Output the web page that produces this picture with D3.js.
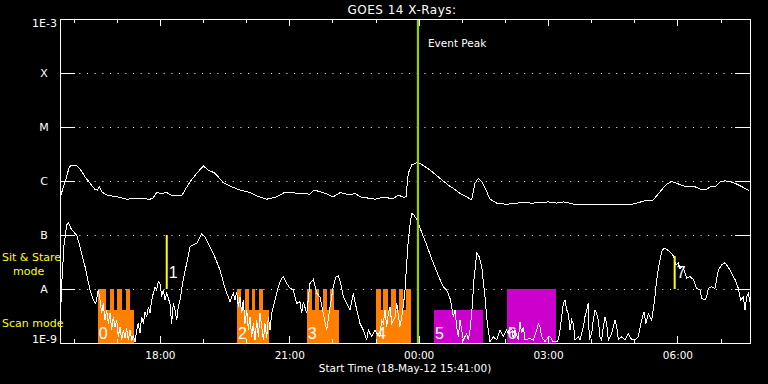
<!DOCTYPE html>
<html><head><meta charset="utf-8">
<script src="https://cdn.jsdelivr.net/npm/d3@7"></script>
<style>
html,body{margin:0;padding:0;background:#000;}
svg{display:block;background:#000;}
text{font-family:"DejaVu Sans",sans-serif;fill:#fff;}
</style></head><body>
<svg id="c" width="768" height="384"></svg>
<script>
// ---------- data ----------
const startTime = Date.UTC(2012, 4, 18, 15, 41, 0);   // plot start
const spanHours = 16;
const titleText = "GOES 14 X-Rays:";

// long channel (1-8 A): minutes after start, flux W/m^2
const longT = [1.4,4.6,9.3,12.9,16.3,23.2,28.8,34.8,41.7,48.7,51.9,54.7,58,65,78.9,92.8,106.7,125.2,129.8,134.5,141.5,148.5,152.1,157.6,169.3,173.9,180.9,190.2,199.4,206.3,215.7,227.2,238.9,250.4,264.3,273.7,287.6,301.5,313,333.9,347.8,353.4,366.3,380.2,389.6,403.5,410.4,417.4,438.3,449.8,463.7,470.7,477.6,481.4,484.6,489.3,496.3,500.9,514.8,528.7,541.6,547.2,556.5,565.8,572.8,577.4,582,586.7,592.7,598.3,607.6,621.5,640,658.5,679.4,691,700.3,714.2,751.3,760.6,779.1,797.6,813.9,825.4,834.8,844.1,851.1,858,867.2,883.5,890.4,899.7,904.3,911.3,918.3,925.2,932.2,939.1,950.7,959];
const longF = [5.5e-7,7.8e-7,1.2e-6,1.84e-6,1.95e-6,1.9e-6,1.6e-6,1.2e-6,9.1e-7,7.0e-7,6.8e-7,7.8e-7,6.3e-7,5.5e-7,5.1e-7,4.6e-7,4.8e-7,4.6e-7,4.9e-7,6.1e-7,5.9e-7,6.1e-7,5.7e-7,5.3e-7,5.3e-7,6.8e-7,9.7e-7,1.39e-6,1.9e-6,1.6e-6,1.39e-6,9.3e-7,7.8e-7,6.8e-7,6.1e-7,5.3e-7,4.6e-7,5.1e-7,6.2e-7,5.9e-7,5.7e-7,6.8e-7,6.1e-7,5.1e-7,6.1e-7,5.5e-7,5.9e-7,5.1e-7,4.6e-7,5.0e-7,4.7e-7,5.5e-7,5.0e-7,5.1e-7,1.39e-6,1.98e-6,2.18e-6,2.13e-6,1.6e-6,1.12e-6,8.1e-7,7.3e-7,5.9e-7,5.1e-7,4.45e-7,9.1e-7,1.12e-6,9.7e-7,6.8e-7,4.6e-7,3.9e-7,3.7e-7,3.96e-7,3.9e-7,4.1e-7,3.9e-7,4.1e-7,3.75e-7,3.6e-7,3.75e-7,3.6e-7,3.75e-7,4.3e-7,4.45e-7,6.3e-7,8.8e-7,9.7e-7,9.1e-7,8.1e-7,7.8e-7,7.1e-7,7.0e-7,7.8e-7,7.8e-7,9.7e-7,1.01e-6,9.7e-7,9.1e-7,7.6e-7,6.6e-7];

// short channel (0.5-4 A): minutes after start, flux W/m^2
const shortT = [0.7,2.8,5.6,9.3,11.5,16.3,23.2,27.8,34.8,41.7,46.3,49.7,53.3,55.7,58,60.2,62.6,65,67.2,69.6,71.9,74.2,76.5,78.9,81.1,83.5,85.8,88.1,90.4,92.8,95,97.4,99.8,102,104.3,106.7,108.9,111.3,113.7,115.9,118.3,120.6,122.9,125.2,127.6,129.8,132.2,134.5,136.8,139.1,141.5,143.7,146.1,148.5,153,155.4,157.6,160,162.4,164.6,167,171.5,176.3,180.9,190.2,197.1,201.7,213.3,222.6,229.6,236.5,238.9,241.1,243.5,245.8,248.1,250.4,252.8,255,257.4,259.8,262,264.3,266.7,268.9,271.3,273.7,276,278.3,280.7,283,285.2,287.6,289.9,292.2,294.5,299.1,303.7,308.4,310.7,315.4,320,324.6,329.3,333.9,336.3,338.5,343.3,347.8,352.4,357.2,361.7,366.3,371,375.7,380.2,384,387.2,390.5,394.2,398.9,403.5,408.1,411.9,417.4,422,426.7,428.9,433.7,438.3,440.6,445.2,447.5,449.8,452.2,454.5,456.8,459.2,461.5,463.8,466.1,468.5,473,475.4,477.6,480,482.4,484.6,487,489.3,492.5,496.7,500.9,510.2,519.4,528.7,533.3,538,542.6,545,547.2,549.6,551.9,554.2,556.5,558.9,561.1,565.8,568.1,570.4,572.8,576,579.8,583.4,586.7,591.3,594.5,598.3,602.8,607.6,612.2,616.8,621.5,623.7,626.1,628.4,630.7,633,637.6,640,642.3,644.6,647,653.9,658.5,663.2,665.5,667.8,670.2,674.8,679.4,681.7,686.3,691,693.3,695.7,698,700.3,702.6,705,707.2,709.6,711.9,714.2,716.5,721.1,723.5,728.1,730.4,732.8,735,736.4,739.8,742,744.3,746.7,748.9,751.3,753.7,755.9,758.3,760.6,762.9,767.6,772.2,774.6,776.8,781.5,786.1,790.7,795.4,800,804.6,809.3,812.5,815.3,818.5,823.2,825.4,827.8,830.2,833.8,837.1,840.3,844.1,848.7,853.3,857,860.2,862.6,866.4,871.9,876.5,881.1,885.8,890.4,892.8,897.4,899.7,902,906.7,911.3,915.9,920.6,925.2,932.2,939.1,943.7,947.1,950.7,953.1,955.4,957.6,960];
const shortF = [3.6e-9,1.5e-8,6.5e-8,1.53e-7,1.69e-7,1.24e-7,1.0e-7,6.1e-8,2.6e-8,9.6e-9,6.25e-9,5.4e-9,9.6e-9,6.25e-9,3.55e-9,5.4e-9,2.67e-9,4.1e-9,2.3e-9,3.55e-9,1.74e-9,3.07e-9,2.0e-9,2.67e-9,1.31e-9,2.0e-9,1.14e-9,1.74e-9,1.22e-9,1.87e-9,1.14e-9,1.74e-9,1.09e-9,1.41e-9,1.05e-9,1.74e-9,2.3e-9,1.51e-9,3.07e-9,2.3e-9,3.8e-9,3.07e-9,4.7e-9,3.55e-9,6.25e-9,8.3e-9,1.1e-8,9.6e-9,1.37e-8,1.27e-8,7.2e-9,9.6e-9,6.25e-9,8.3e-9,5.4e-9,2.3e-9,5.4e-9,4.1e-9,2.67e-9,4.7e-9,6.25e-9,1.5e-8,3.0e-8,6.1e-8,7.0e-8,1.07e-7,9.3e-8,4.6e-8,2.25e-8,1.03e-8,5.8e-9,7.2e-9,8.3e-9,6.25e-9,8.9e-9,4.7e-9,7.2e-9,3.55e-9,6.25e-9,2.3e-9,4.1e-9,1.74e-9,3.07e-9,1.31e-9,2.3e-9,1.14e-9,2.67e-9,1.31e-9,3.55e-9,2.0e-9,1.14e-9,2.3e-9,1.22e-9,3.07e-9,1.74e-9,3.55e-9,6.25e-9,1.1e-8,1.58e-8,1.69e-8,1.27e-8,1.03e-8,9.6e-9,5.4e-9,5.8e-9,3.55e-9,5.8e-9,3.55e-9,1.27e-8,1.5e-8,8.3e-9,7.2e-9,3.55e-9,1.74e-9,4.7e-9,1.1e-8,1.69e-8,1.74e-8,1.27e-8,7.2e-9,5.4e-9,4.1e-9,8.3e-9,4.7e-9,2.3e-9,1.74e-9,1.14e-9,1.74e-9,1.31e-9,1.74e-9,1.51e-9,1.31e-9,2.67e-9,2.3e-9,4.1e-9,2.0e-9,3.55e-9,4.7e-9,2.3e-9,2.67e-9,3.07e-9,5.4e-9,2.0e-9,3.07e-9,4.7e-9,9.6e-9,3.0e-8,8.1e-8,1.53e-7,2.52e-7,2.35e-7,1.9e-7,1.35e-7,6.5e-8,3.0e-8,1.5e-8,1.1e-8,9.6e-9,6.7e-9,4.7e-9,3.07e-9,4.1e-9,2.0e-9,1.31e-9,2.67e-9,1.74e-9,1.14e-9,1.51e-9,1.14e-9,1.74e-9,3.55e-9,1.5e-8,4.6e-8,3.95e-8,2.6e-8,7.2e-9,2.3e-9,1.05e-9,1.31e-9,1.14e-9,1.74e-9,1.31e-9,1.74e-9,1.51e-9,2.0e-9,1.87e-9,1.22e-9,1.74e-9,1.14e-9,2.48e-9,1.51e-9,2.0e-9,1.14e-9,1.22e-9,1.14e-9,1.74e-9,2.3e-9,2.0e-9,1.31e-9,1.05e-9,1.31e-9,1.31e-9,1.05e-9,1.05e-9,1.14e-9,1.74e-9,3.07e-9,5.4e-9,6.25e-9,4.1e-9,3.55e-9,1.74e-9,2.67e-9,2.3e-9,1.14e-9,1.31e-9,1.14e-9,2.0e-9,3.07e-9,4.1e-9,5.4e-9,1.14e-9,1.51e-9,2.67e-9,4.1e-9,3.55e-9,2.67e-9,1.31e-9,1.14e-9,2.0e-9,3.07e-9,2.3e-9,1.14e-9,1.51e-9,2.67e-9,2.0e-9,1.14e-9,1.31e-9,1.14e-9,1.51e-9,1.14e-9,1.14e-9,1.31e-9,2.67e-9,3.8e-9,2.3e-9,3.55e-9,2.67e-9,4.1e-9,7.2e-9,1.5e-8,3.0e-8,4.9e-8,5.7e-8,5.4e-8,4.9e-8,4.1e-8,2.8e-8,3.0e-8,2.4e-8,2.6e-8,1.58e-8,1.69e-8,1.5e-8,1.03e-8,9.6e-9,6.7e-9,6.25e-9,7.2e-9,1.03e-8,1.1e-8,1.03e-8,2.25e-8,2.8e-8,3.07e-8,2.25e-8,1.5e-8,1.03e-8,6.25e-9,7.2e-9,4.1e-9,7.2e-9,8.3e-9,5.8e-9];

// y axis
const yTickValues = [1e-9, 1e-8, 1e-7, 1e-6, 1e-5, 1e-4, 1e-3];
const yTickLabels = ["1E-9", "A", "B", "C", "M", "X", "1E-3"];
const gridValues = [1e-8, 1e-7, 1e-6, 1e-5, 1e-4];

// observing modes (flux level of the mode bars)
const sitLevel = 1e-8;
const scanLevel = 4.1e-9;

// observing blocks (minutes after start)
const blockLabel = ["0", "2", "3", "4", "5", "6"];
const blockStart = [52.5, 246.3, 343.3, 439.6, 520.3, 621.5];
const blockEnd   = [102.5, 290.9, 388.2, 488.3, 588.1, 690.1];
const blockBase  = ["scan", "scan", "scan", "scan", "scan", "sit"];
const blockKind  = ["a", "a", "a", "a", "b", "b"];
const blockTeeth = [
  [[52.5,64],[69.6,75.5],[79.7,85.8],[91.4,97.4]],
  [[245.8,252.3],[257,262.5],[267.1,271.7],[276.5,282.9]],
  [[343.6,350.6],[355.2,360.8],[365.5,371],[375.7,381.2]],
  [[439.6,446.2],[449.8,456.3],[460.1,467.1],[471.2,477.6],[481.4,488.3]],
  [], []
];

// short events
const eventLabel = ["1", "7"];
const eventT = [148.5, 855.2];
const eventTop = [1e-7, 4.1e-8];

// event peak
const peakT = 498;
const peakText = "Event Peak";

// ---------- drawing ----------
const svg = d3.select("#c");
const L = 60, R = 750, T = 19, B = 343;
const t0 = new Date(startTime), t1 = new Date(startTime + spanHours * 3600e3);
const toDate = m => new Date(startTime + m * 60000);
const x = d3.scaleUtc().domain([t0, t1]).range([L, R]);
const y = d3.scaleLog().domain([1e-9, 1e-3]).range([B, T]).clamp(true);
const lvl = k => (k === "sit" ? sitLevel : scanLevel);
const kindColor = {a: "#ff8000", b: "#cc00cc"};

// grid
svg.append("g").selectAll("line").data(gridValues).join("line")
  .attr("x1", L).attr("x2", R).attr("y1", d => Math.round(y(d)) + 0.5).attr("y2", d => Math.round(y(d)) + 0.5)
  .attr("stroke", "#fff").attr("stroke-width", 1).attr("stroke-dasharray", "1 6.67").attr("stroke-dashoffset", -4);

// blocks
const gb = svg.append("g").attr("shape-rendering", "crispEdges");
blockStart.forEach((s, i) => {
  const col = kindColor[blockKind[i]];
  const top = lvl(blockBase[i]);
  gb.append("rect").attr("x", x(toDate(s))).attr("width", x(toDate(blockEnd[i])) - x(toDate(s)))
    .attr("y", y(top)).attr("height", y(1e-9) - y(top)).attr("fill", col);
  blockTeeth[i].forEach(tt => {
    gb.append("rect").attr("x", x(toDate(tt[0]))).attr("width", x(toDate(tt[1])) - x(toDate(tt[0])))
      .attr("y", y(sitLevel)).attr("height", y(scanLevel) - y(sitLevel) + 0.5).attr("fill", col);
  });
});

// curves
const line = d3.line().x(d => x(toDate(d[0]))).y(d => y(d[1]));
svg.append("path").datum(longT.map((t, i) => [t, longF[i]])).attr("d", line)
  .attr("fill", "none").attr("stroke", "#fff").attr("stroke-width", 1).attr("shape-rendering", "crispEdges");
svg.append("path").datum(shortT.map((t, i) => [t, shortF[i]])).attr("d", line)
  .attr("fill", "none").attr("stroke", "#fff").attr("stroke-width", 1).attr("shape-rendering", "crispEdges");

// block labels
svg.append("g").selectAll("text").data(blockLabel).join("text")
  .attr("x", (d, i) => x(toDate(blockStart[i])) + 1).attr("y", B - 4)
  .style("font-family", "'Liberation Sans',sans-serif").style("font-size", "16px").style("font-weight", 300)
  .text(d => d);

// event lines
eventT.forEach((t, i) => {
  svg.append("line").attr("x1", x(toDate(t))).attr("x2", x(toDate(t)))
    .attr("y1", y(eventTop[i])).attr("y2", y(sitLevel))
    .attr("stroke", "#ffff00").attr("stroke-width", 2);
  svg.append("text").attr("x", x(toDate(t)) + 2).attr("y", B - 65)
    .style("font-family", "'Liberation Sans',sans-serif").style("font-size", "16px").style("font-weight", 300)
    .text(eventLabel[i]);
});

// event peak
svg.append("line").attr("x1", x(toDate(peakT))).attr("x2", x(toDate(peakT)))
  .attr("y1", T).attr("y2", B).attr("stroke", "#99cc00").attr("stroke-width", 2.2);
svg.append("text").attr("x", x(toDate(peakT)) + 10).attr("y", 47)
  .style("font-size", "10.5px").text(peakText);

// axes
const fmt = d3.utcFormat("%H:%M");
function styleAxis(g) {
  g.select(".domain").remove();
  g.selectAll("line").attr("stroke", "#fff").attr("shape-rendering", "crispEdges");
  g.selectAll("text").attr("fill", "#fff").style("font-family", "'DejaVu Sans',sans-serif").style("font-size", "10.5px");
}
const hourly = d3.utcHour.range(t0, t1);
const major = hourly.filter(d => d.getUTCHours() % 3 === 0);
const minor = hourly.filter(d => d.getUTCHours() % 3 !== 0);
svg.append("g").attr("transform", `translate(0,${T})`)
  .call(d3.axisTop(x).tickValues(minor).tickSize(-4).tickFormat("")).call(styleAxis);
svg.append("g").attr("transform", `translate(0,${T})`)
  .call(d3.axisTop(x).tickValues(major).tickSize(-7).tickFormat("")).call(styleAxis);
svg.append("g").attr("transform", `translate(0,${B})`)
  .call(d3.axisBottom(x).tickValues(minor).tickSize(-4).tickFormat("")).call(styleAxis);
svg.append("g").attr("transform", `translate(0,${B})`)
  .call(d3.axisBottom(x).tickValues(major).tickSize(-7).tickPadding(8.5).tickFormat(fmt)).call(styleAxis);
svg.append("g").attr("transform", `translate(${L},0)`)
  .call(d3.axisLeft(y).tickValues(gridValues).tickSize(-15).tickFormat("")).call(styleAxis);
svg.append("g").attr("transform", `translate(${R},0)`)
  .call(d3.axisRight(y).tickValues(gridValues).tickSize(-15).tickFormat("")).call(styleAxis);

// frame
svg.append("rect").attr("x", L).attr("y", T).attr("width", R - L).attr("height", B - T)
  .attr("fill", "none").attr("stroke", "#fff").attr("shape-rendering", "crispEdges");

// y labels
svg.append("g").selectAll("text").data(yTickValues).join("text")
  .attr("x", (d, i) => yTickLabels[i].length > 1 ? L - 3 : L - 16)
  .attr("y", (d, i) => i === yTickValues.length - 1 ? y(d) + 8 : (i === 0 ? y(d) : y(d) + 4))
  .attr("text-anchor", (d, i) => yTickLabels[i].length > 1 ? "end" : "middle")
  .style("font-size", "11px").text((d, i) => yTickLabels[i]);

// mode labels
svg.append("text").attr("x", 2).attr("y", 261).style("fill", "#ffff00")
  .style("font-size", "11px").text("Sit & Stare");
svg.append("text").attr("x", 13).attr("y", 275).style("fill", "#ffff00")
  .style("font-size", "11px").text("mode");
svg.append("text").attr("x", 2).attr("y", 327).style("fill", "#ffff00")
  .style("font-size", "11px").text("Scan mode");

// title & x label
svg.append("text").attr("x", (L + R) / 2 - 3).attr("y", 14).attr("text-anchor", "middle")
  .style("font-size", "12px").style("letter-spacing", "0.5px").text(titleText);
svg.append("text").attr("x", (L + R) / 2).attr("y", 372).attr("text-anchor", "middle")
  .style("font-size", "10.5px").text(d3.utcFormat("Start Time (%d-%b-%y %H:%M:%S)")(t0));
</script>
</body></html>
